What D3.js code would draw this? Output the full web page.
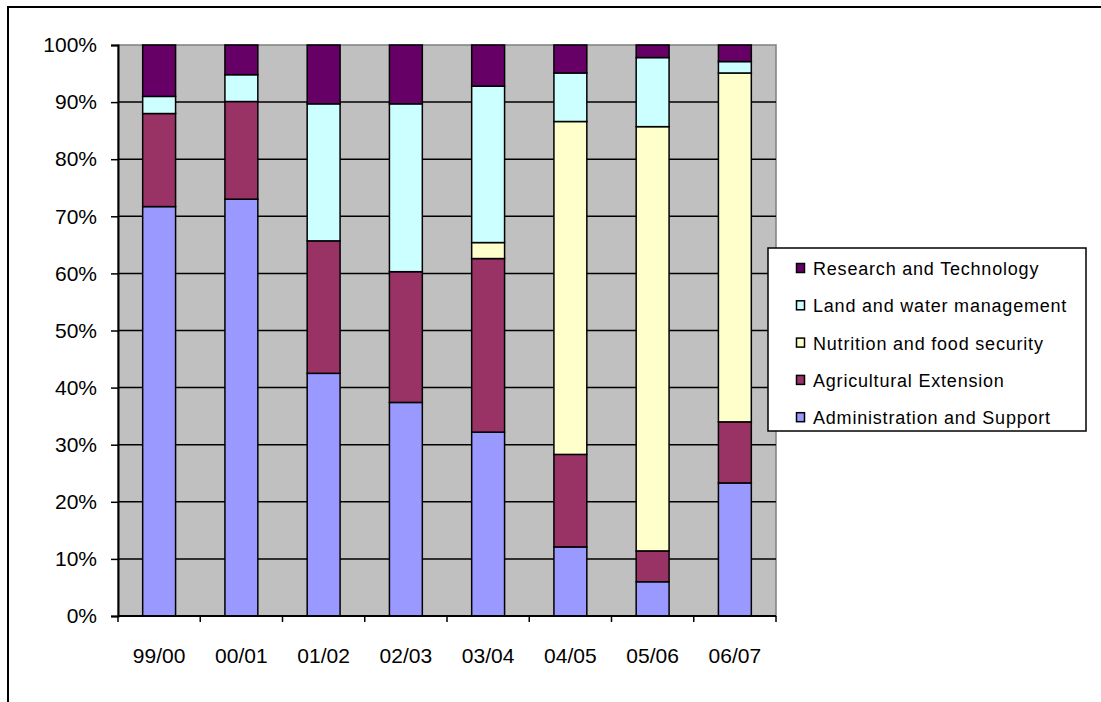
<!DOCTYPE html>
<html>
<head>
<meta charset="utf-8">
<script src="https://cdn.jsdelivr.net/npm/d3@7"></script>
<style>
  html, body { margin: 0; padding: 0; background: #fff; }
  svg { display: block; font-family: "Liberation Sans", Arial, sans-serif; }
</style>
</head>
<body>
<svg id="chart" width="1101" height="702"></svg>
<script>
// Budget share by programme, per financial year (percent of total)
const categories = ["99/00", "00/01", "01/02", "02/03", "03/04", "04/05", "05/06", "06/07"];
const admin      = [71.7, 73.0, 42.5, 37.4, 32.2, 12.1, 6.0, 23.3];
const agExt      = [16.3, 17.1, 23.2, 22.9, 30.4, 16.2, 5.4, 10.7];
const nutrition  = [0, 0, 0, 0, 2.8, 58.3, 74.3, 61.1];
const land       = [3.0, 4.7, 24.0, 29.4, 27.4, 8.5, 12.1, 2.0];
const research   = [9.0, 5.2, 10.3, 10.3, 7.2, 4.9, 2.2, 2.9];

const seriesNames = ["Administration and Support", "Agricultural Extension",
  "Nutrition and food security", "Land and water management", "Research and Technology"];
const seriesValues = [admin, agExt, nutrition, land, research];
const seriesColors = ["#9999FF", "#993366", "#FFFFCC", "#CCFFFF", "#660066"];
const yTicks = [0, 10, 20, 30, 40, 50, 60, 70, 80, 90, 100];

const rows = categories.map((c, i) => {
  const r = { cat: c };
  seriesNames.forEach((n, k) => { r[n] = seriesValues[k][i]; });
  return r;
});

const svg = d3.select("#chart");
const plot = { left: 118, right: 776, top: 45, bottom: 616 };

// outer chart frame (continues past the window on the right and bottom)
svg.append("rect")
  .attr("x", 8).attr("y", 7).attr("width", 1200).attr("height", 800)
  .attr("fill", "#fff").attr("stroke", "#000").attr("stroke-width", 2);

const x = d3.scaleBand().domain(categories)
  .range([plot.left, plot.right]).paddingInner(0.6).paddingOuter(0.3);
const xTickScale = d3.scaleBand().domain(categories).range([plot.left, plot.right]);
const y = d3.scaleLinear().domain([0, 100]).range([plot.bottom, plot.top]);

// plot background
svg.append("rect")
  .attr("x", plot.left).attr("y", plot.top)
  .attr("width", plot.right - plot.left).attr("height", plot.bottom - plot.top)
  .attr("fill", "#C0C0C0").attr("stroke", "#808080").attr("stroke-width", 1.5);

// horizontal gridlines
svg.append("g").selectAll("line")
  .data(yTicks.filter(t => t > 0 && t < 100))
  .join("line")
  .attr("x1", plot.left).attr("x2", plot.right)
  .attr("y1", d => y(d)).attr("y2", d => y(d))
  .attr("stroke", "#000").attr("stroke-width", 1.5);

// stacked bars
const stack = d3.stack().keys(seriesNames)(rows);
svg.append("g").selectAll("g")
  .data(stack)
  .join("g")
  .attr("fill", (d, i) => seriesColors[i])
  .selectAll("rect")
  .data(d => d.filter(s => s[1] - s[0] > 0))
  .join("rect")
  .attr("x", d => x(d.data.cat))
  .attr("width", x.bandwidth())
  .attr("y", d => y(d[1]))
  .attr("height", d => y(d[0]) - y(d[1]))
  .attr("stroke", "#000").attr("stroke-width", 1.5);

// y axis
const yAxis = svg.append("g")
  .attr("transform", `translate(${plot.left},0)`)
  .call(d3.axisLeft(y).tickValues(yTicks).tickSize(7).tickPadding(14).tickFormat(d => d + "%"));
yAxis.select(".domain").attr("stroke", "#000").attr("stroke-width", 2);
yAxis.selectAll(".tick line").attr("stroke", "#000").attr("stroke-width", 1.5);
yAxis.selectAll(".tick text")
  .attr("font-size", 21).attr("font-family", "Liberation Sans, Arial, sans-serif")
  .attr("fill", "#000");

// x axis with tick marks at the category boundaries
const xAxisG = svg.append("g").attr("transform", `translate(0,${plot.bottom})`);
xAxisG.append("line")
  .attr("x1", plot.left).attr("x2", plot.right).attr("y1", 0).attr("y2", 0)
  .attr("stroke", "#000").attr("stroke-width", 2);
const boundaries = categories.map(c => xTickScale(c)).concat([plot.right]);
xAxisG.selectAll("line.tk")
  .data(boundaries).join("line").attr("class", "tk")
  .attr("x1", d => d).attr("x2", d => d).attr("y1", 0).attr("y2", 6)
  .attr("stroke", "#000").attr("stroke-width", 1.5);
xAxisG.selectAll("text")
  .data(categories).join("text")
  .attr("x", d => x(d) + x.bandwidth() / 2)
  .attr("y", 47)
  .attr("text-anchor", "middle")
  .attr("font-size", 21)
  .attr("fill", "#000")
  .text(d => d);

// legend (top entry is the top stack)
const legend = svg.append("g");
legend.append("rect")
  .attr("x", 768).attr("y", 248).attr("width", 318).attr("height", 183)
  .attr("fill", "#fff").attr("stroke", "#000").attr("stroke-width", 1.5);
const legendOrder = d3.range(seriesNames.length).reverse();
const items = legend.selectAll("g.item")
  .data(legendOrder).join("g").attr("class", "item")
  .attr("transform", (d, i) => `translate(796,${268 + i * 37.3})`);
items.append("rect")
  .attr("x", 0.5).attr("y", -4.5).attr("width", 8).attr("height", 9)
  .attr("fill", d => seriesColors[d]).attr("stroke", "#000").attr("stroke-width", 1.5);
items.append("text")
  .attr("x", 17).attr("y", 7)
  .attr("font-size", 18).attr("letter-spacing", 0.8)
  .attr("fill", "#000")
  .text(d => seriesNames[d]);
</script>
</body>
</html>
